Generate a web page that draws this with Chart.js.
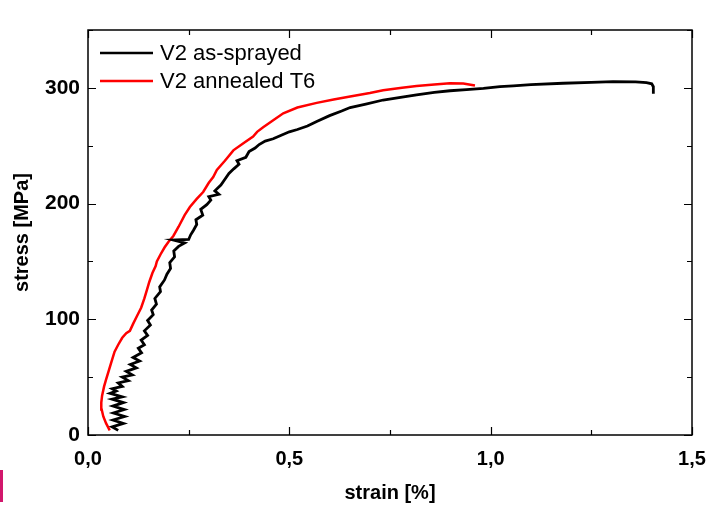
<!DOCTYPE html>
<html>
<head>
<meta charset="utf-8">
<title>Stress–strain curves</title>
<script src="https://cdn.jsdelivr.net/npm/chart.js@4/dist/chart.umd.min.js"></script>
<style>
  html, body { margin: 0; padding: 0; background: #fff; }
  #wrap { position: relative; width: 709px; height: 507px; }
  #mark { position: absolute; left: 0; top: 470px; width: 3px; height: 32px; background: #d2176c; }
</style>
</head>
<body>
<div id="wrap">
  <canvas id="c" width="709" height="507"></canvas>
  <div id="mark"></div>
</div>
<script>
// Tensile test, V2 as-sprayed
const asSprayedStrain = [
  0.075, 0.060, 0.088, 0.062, 0.091, 0.063, 0.090, 0.062, 0.088, 0.060,
  0.085, 0.055, 0.070, 0.060, 0.085, 0.075, 0.100, 0.085, 0.110, 0.095,
  0.120, 0.105, 0.128, 0.112, 0.133, 0.125, 0.140, 0.132, 0.148, 0.140,
  0.155, 0.148, 0.162, 0.158, 0.170, 0.166, 0.180, 0.178, 0.190, 0.196,
  0.205, 0.203, 0.215, 0.213, 0.225, 0.240, 0.212, 0.250, 0.255, 0.262,
  0.270, 0.268, 0.285, 0.280, 0.295, 0.305, 0.300, 0.325, 0.315, 0.330,
  0.340, 0.350, 0.362, 0.375, 0.370, 0.392, 0.400, 0.415, 0.425, 0.440,
  0.460, 0.480, 0.500, 0.520, 0.545, 0.568, 0.600, 0.630, 0.651, 0.690,
  0.733, 0.780, 0.816, 0.860, 0.899, 0.940, 0.982, 1.023, 1.056, 1.100,
  1.180, 1.250, 1.304, 1.360, 1.387, 1.400, 1.404, 1.404
];
const asSprayedStress = [
  4, 7, 10, 13, 16, 19, 22, 25, 28, 31,
  33, 36, 38, 40, 42, 45, 47, 50, 52, 55,
  58, 61, 64, 67, 71, 75, 78, 82, 86, 90,
  95, 99, 104, 108, 113, 118, 124, 128, 134, 139,
  144, 149, 154, 159, 163, 166, 168.5, 169, 173, 177,
  182, 186, 190, 195, 199, 203, 206, 208, 211, 216,
  221, 226, 230, 234, 237, 240, 245, 248, 251, 254,
  256, 259, 262, 264, 267, 271, 276, 280, 283, 286,
  289.5, 292, 294, 296, 297.5, 298.5, 299.6, 301, 301.8, 302.8,
  304, 304.8, 305.4, 305.2, 304.5, 303.5, 301, 295
];

// Tensile test, V2 annealed T6
const annealedStrain = [
  0.054, 0.045, 0.038, 0.034, 0.033, 0.035, 0.040, 0.045, 0.052, 0.058,
  0.066, 0.075, 0.085, 0.095, 0.104, 0.112, 0.122, 0.132, 0.140, 0.146,
  0.152, 0.160, 0.168, 0.171, 0.180, 0.190, 0.200, 0.212, 0.225, 0.240,
  0.253, 0.270, 0.286, 0.300, 0.311, 0.320, 0.340, 0.361, 0.385, 0.410,
  0.420, 0.435, 0.460, 0.485, 0.520, 0.568, 0.610, 0.651, 0.700, 0.733,
  0.780, 0.816, 0.860, 0.899, 0.932, 0.961
];
const annealedStress = [
  4, 10, 16, 22, 28, 34, 42, 48, 56, 63,
  72, 78, 84, 88, 90, 96, 103, 110, 118, 125,
  132, 140, 146, 150, 156, 162, 167, 172, 180, 190,
  197, 204, 210, 218, 223, 229, 237, 246, 252, 258,
  262, 266, 272, 278, 283, 287, 290, 292.5, 295.5, 298,
  300, 301.6, 303, 304, 303.8, 302
];

const seriesLabels = ['V2 as-sprayed', 'V2 annealed T6'];
const xTickValues = [0, 0.5, 1.0, 1.5];
const yTickValues = [0, 100, 200, 300];
const xMinorStep = 0.25;
const yMinorStep = 50;

const FONT = '"Liberation Sans", Arial, Helvetica, sans-serif';

function toPoints(xs, ys) {
  return xs.map((x, i) => ({ x: x, y: ys[i] }));
}

// Frame, inward ticks on all four sides, and the in-plot legend
const framePlugin = {
  id: 'frame',
  afterDraw(chart) {
    const { ctx, chartArea: a, scales } = chart;
    const xs = scales.x, ys = scales.y;
    ctx.save();
    ctx.strokeStyle = '#000';
    ctx.lineWidth = 1.5;
    ctx.strokeRect(a.left, a.top, a.right - a.left, a.bottom - a.top);

    const majorLen = 8, minorLen = 5;
    ctx.lineWidth = 1.2;
    ctx.beginPath();
    for (let v = xs.min; v <= xs.max + 1e-9; v += xMinorStep) {
      const px = Math.round(xs.getPixelForValue(v)) + 0.5;
      const major = xTickValues.some(t => Math.abs(t - v) < 1e-6);
      const len = major ? majorLen : minorLen;
      ctx.moveTo(px, a.bottom); ctx.lineTo(px, a.bottom - len);
      ctx.moveTo(px, a.top); ctx.lineTo(px, a.top + len);
    }
    for (let v = ys.min; v <= ys.max + 1e-9; v += yMinorStep) {
      const py = Math.round(ys.getPixelForValue(v)) + 0.5;
      const major = yTickValues.some(t => Math.abs(t - v) < 1e-6);
      const len = major ? majorLen : minorLen;
      ctx.moveTo(a.left, py); ctx.lineTo(a.left + len, py);
      ctx.moveTo(a.right, py); ctx.lineTo(a.right - len, py);
    }
    ctx.stroke();

    // legend
    const lx0 = a.left + 12, lx1 = a.left + 65, tx = a.left + 72;
    const rowY = [a.top + 23, a.top + 51];
    ctx.font = '22px ' + FONT;
    ctx.textBaseline = 'middle';
    ctx.textAlign = 'left';
    chart.data.datasets.forEach((ds, i) => {
      ctx.strokeStyle = ds.borderColor;
      ctx.lineWidth = 2.5;
      ctx.beginPath();
      ctx.moveTo(lx0, rowY[i]); ctx.lineTo(lx1, rowY[i]);
      ctx.stroke();
      ctx.fillStyle = '#000';
      ctx.fillText(ds.label, tx, rowY[i] + 1);
    });
    ctx.restore();
  }
};

const commaFmt = v => v.toFixed(1).replace('.', ',');

new Chart(document.getElementById('c'), {
  type: 'line',
  data: {
    datasets: [
      {
        label: seriesLabels[0],
        data: toPoints(asSprayedStrain, asSprayedStress),
        borderColor: '#000000',
        borderWidth: 2.8,
        pointRadius: 0,
        tension: 0,
        fill: false
      },
      {
        label: seriesLabels[1],
        data: toPoints(annealedStrain, annealedStress),
        borderColor: '#ff0000',
        borderWidth: 2.5,
        pointRadius: 0,
        tension: 0,
        fill: false
      }
    ]
  },
  options: {
    responsive: false,
    devicePixelRatio: 1,
    animation: false,
    layout: { padding: { left: 0, right: 17, top: 30, bottom: 0 } },
    plugins: {
      legend: { display: false },
      tooltip: { enabled: false }
    },
    scales: {
      x: {
        type: 'linear',
        min: 0,
        max: 1.5,
        afterBuildTicks: s => { s.ticks = xTickValues.map(v => ({ value: v })); },
        afterFit: s => { s.height = 72; s.paddingLeft = 0; s.paddingRight = 0; },
        grid: { display: false, drawTicks: false },
        border: { display: false },
        ticks: {
          color: '#000',
          padding: 12,
          maxRotation: 0,
          font: { family: FONT, size: 20, weight: 'bold' },
          callback: v => commaFmt(v)
        },
        title: {
          display: true,
          text: 'strain [%]',
          color: '#000',
          padding: { top: 0, bottom: 2 },
          font: { family: FONT, size: 20, weight: 'bold' }
        }
      },
      y: {
        type: 'linear',
        min: 0,
        max: 350,
        afterBuildTicks: s => { s.ticks = yTickValues.map(v => ({ value: v })); },
        afterFit: s => { s.width = 88; s.paddingTop = 0; s.paddingBottom = 0; },
        grid: { display: false, drawTicks: false },
        border: { display: false },
        ticks: {
          color: '#000',
          padding: 8,
          font: { family: FONT, size: 21, weight: 'bold' },
          callback: v => String(v)
        },
        title: {
          display: true,
          text: 'stress [MPa]',
          color: '#000',
          padding: { top: 10, bottom: 0 },
          font: { family: FONT, size: 20, weight: 'bold' }
        }
      }
    }
  },
  plugins: [framePlugin]
});
</script>
</body>
</html>
